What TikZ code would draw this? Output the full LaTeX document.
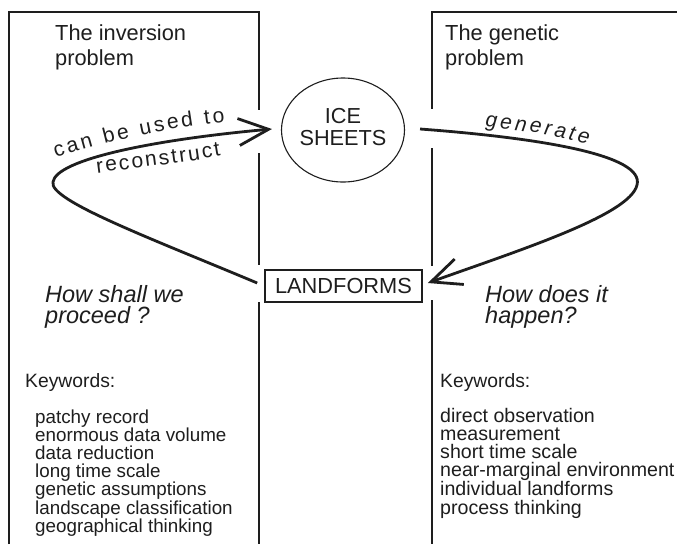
\documentclass[tikz,border=0pt]{standalone}
\usepackage{fontspec}
\setmainfont{Liberation Sans}
\usetikzlibrary{arrows.meta,shapes.geometric,decorations.text}
\definecolor{ink}{HTML}{1E1E1E}
\newcommand\ttlfont{\fontsize{21.8}{25}\selectfont}
\newcommand\qstfont{\fontsize{23.5}{21.5}\selectfont\itshape}
\newcommand\kwhfont{\fontsize{19.3}{20}\selectfont}
\newcommand\kwlfontL{\fontsize{18.8}{18.2}\selectfont}
\newcommand\kwlfontR{\fontsize{19.6}{18.2}\selectfont}
\newcommand\lblfont{\fontsize{21}{21}\selectfont}
\newcommand\lblfontit{\fontsize{21}{21}\selectfont\itshape}
% stack of left-aligned lines whose baseline is that of the first line
\newcommand\stk[1]{\vtop{\halign{##\hfil\cr#1\crcr}}}
\begin{document}
\begin{tikzpicture}[x=1pt,y=-1pt,
  frame/.style={draw=ink,line width=1.6pt},
  txt/.style={anchor=base west,inner sep=0pt,text=ink},
  ttl/.style={txt,font=\ttlfont},
  qst/.style={txt,font=\qstfont},
  kwh/.style={txt,font=\kwhfont},
  kwlL/.style={txt,font=\kwlfontL},
  kwlR/.style={txt,font=\kwlfontR},
  ell/.style={ellipse,draw=ink,line width=1.1pt,minimum width=123pt,minimum height=104pt,inner sep=0pt,align=center,font=\fontsize{21.7}{22}\selectfont,text=ink,text depth=7pt},
  lbox/.style={rectangle,draw=ink,line width=1.6pt,minimum width=157pt,minimum height=32pt,inner sep=0pt,font=\fontsize{21.8}{22}\selectfont,text=ink},
  arr/.style={draw=ink,line width=2.8pt,-{Straight Barb[length=30pt,width=27pt]}},
  lbl/.style={decorate,decoration={text along path,text align={fit to path},text color=ink}}
]
\useasboundingbox (0,0) rectangle (677,544);
\fill[white] (0,0) rectangle (677,544);

% frames with gaps
\draw[frame] (9,544) -- (9,12) -- (259,12) -- (259,110);
\draw[frame] (259,153) -- (259,265);
\draw[frame] (259,302) -- (259,544);
\draw[frame] (677,12) -- (432,12) -- (432,109);
\draw[frame] (432,148) -- (432,266);
\draw[frame] (432,300) -- (432,544);

% central nodes
\node[ell] (ice) at (343,130) {ICE\\SHEETS};
\node[lbox] (lf) at (343.5,286) {LANDFORMS};

% connectors
\draw[arr] ([shift={(-7,-3)}]lf.west) .. controls (150,238) and (48,200) .. (53,182)
   .. controls (56,160) and (150,140) .. ([shift={(-9,-1)}]ice.west);
\draw[arr] ([shift={(15,-1)}]ice.east) .. controls (540,138) and (645,155) .. (637,185)
   .. controls (630,215) and (520,250) .. ([shift={(5,-3)}]lf.east);

% curved labels
\path[lbl,decoration={text={|\lblfont|can be used to}}] (56,158) .. controls (105,142) and (165,128) .. (225,122);
\path[lbl,decoration={text={|\lblfont|reconstruct}}] (97,173) .. controls (135,168) and (180,163) .. (221,156);
\path[lbl,decoration={text={|\lblfontit|generate}}] (485,127) .. controls (520,130) and (555,135) .. (588,144);

% texts
\node[ttl] (t1) at (55,40) {\stk{The inversion\cr problem}};
\node[ttl] (t2) at (445,40) {\stk{The genetic\cr problem}};
\node[qst] (q1) at (45,302) {\stk{How shall we\cr proceed ?}};
\node[qst] (q2) at (485,302) {\stk{How does it\cr happen?}};
\node[kwh] (k1) at (25,387) {Keywords:};
\node[kwh] (k2) at (440,387) {Keywords:};
\node[kwlL] (l1) at (35,423) {\stk{patchy record\cr enormous data volume\cr data reduction\cr long time scale\cr genetic assumptions\cr landscape classification\cr geographical thinking}};
\node[kwlR] (l2) at (440,422) {\stk{direct observation\cr measurement\cr short time scale\cr near-marginal environment\cr individual landforms\cr process thinking}};
\end{tikzpicture}
\end{document}
